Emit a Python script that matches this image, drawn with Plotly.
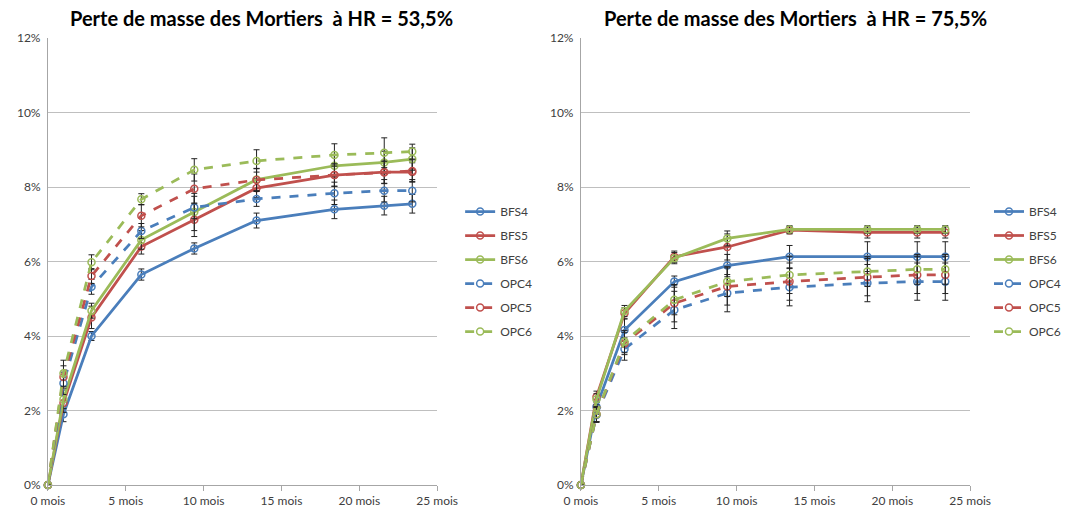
import plotly.graph_objects as go

# Time of measurement (months)
months = [0, 1, 2.8, 6, 9.4, 13.4, 18.4, 21.6, 23.4]

series_names = ["BFS4", "BFS5", "BFS6", "OPC4", "OPC5", "OPC6"]

# Mass loss (%) at HR = 53,5%
hr53_BFS4 = [0, 1.9, 4.0, 5.65, 6.35, 7.1, 7.4, 7.5, 7.55]
hr53_BFS5 = [0, 2.2, 4.5, 6.4, 7.12, 7.97, 8.32, 8.4, 8.4]
hr53_BFS6 = [0, 2.3, 4.68, 6.58, 7.33, 8.2, 8.57, 8.66, 8.75]
hr53_OPC4 = [0, 2.73, 5.32, 6.82, 7.45, 7.68, 7.83, 7.9, 7.9]
hr53_OPC5 = [0, 2.9, 5.61, 7.23, 7.95, 8.19, 8.32, 8.39, 8.43]
hr53_OPC6 = [0, 3.0, 5.98, 7.67, 8.46, 8.7, 8.86, 8.92, 8.95]

# Standard deviations (%) at HR = 53,5%
hr53_err_BFS4 = [0, 0.2, 0.12, 0.15, 0.15, 0.2, 0.25, 0.25, 0.25]
hr53_err_BFS5 = [0, 0.25, 0.3, 0.2, 0.45, 0.25, 0.3, 0.3, 0.25]
hr53_err_BFS6 = [0, 0.25, 0.2, 0.25, 0.5, 0.3, 0.3, 0.3, 0.3]
hr53_err_OPC4 = [0, 0.3, 0.2, 0.2, 0.3, 0.2, 0.3, 0.3, 0.3]
hr53_err_OPC5 = [0, 0.3, 0.2, 0.3, 0.4, 0.3, 0.3, 0.3, 0.3]
hr53_err_OPC6 = [0, 0.35, 0.2, 0.15, 0.3, 0.3, 0.3, 0.4, 0.2]

# Mass loss (%) at HR = 75,5%
hr75_BFS4 = [0, 2.1, 4.16, 5.46, 5.89, 6.13, 6.13, 6.13, 6.13]
hr75_BFS5 = [0, 2.37, 4.61, 6.13, 6.39, 6.84, 6.78, 6.78, 6.78]
hr75_BFS6 = [0, 2.3, 4.67, 6.09, 6.62, 6.86, 6.86, 6.86, 6.86]
hr75_OPC4 = [0, 1.88, 3.65, 4.7, 5.15, 5.31, 5.42, 5.46, 5.46]
hr75_OPC5 = [0, 1.9, 3.8, 4.88, 5.33, 5.46, 5.58, 5.64, 5.64]
hr75_OPC6 = [0, 1.9, 3.85, 4.97, 5.46, 5.64, 5.73, 5.79, 5.79]

# Standard deviations (%) at HR = 75,5%
hr75_err_BFS4 = [0, 0.2, 0.3, 0.15, 0.3, 0.3, 0.4, 0.4, 0.4]
hr75_err_BFS5 = [0, 0.15, 0.15, 0.15, 0.35, 0.1, 0.15, 0.15, 0.15]
hr75_err_BFS6 = [0, 0.15, 0.15, 0.15, 0.2, 0.1, 0.1, 0.1, 0.1]
hr75_err_OPC4 = [0, 0.2, 0.3, 0.5, 0.5, 0.5, 0.5, 0.5, 0.5]
hr75_err_OPC5 = [0, 0.2, 0.3, 0.5, 0.5, 0.5, 0.5, 0.5, 0.5]
hr75_err_OPC6 = [0, 0.2, 0.3, 0.4, 0.4, 0.5, 0.4, 0.4, 0.4]

x_tickvals = [0, 5, 10, 15, 20, 25]
x_ticktext = ["0 mois", "5 mois", "10 mois", "15 mois", "20 mois", "25 mois"]
y_tickvals = [0, 2, 4, 6, 8, 10, 12]
y_ticktext = ["0%", "2%", "4%", "6%", "8%", "10%", "12%"]

titles = ["Perte de masse des Mortiers  à HR = 53,5%",
          "Perte de masse des Mortiers  à HR = 75,5%"]

colors = {"BFS4": "#4A7EBB", "BFS5": "#C0504D", "BFS6": "#9BBB59",
          "OPC4": "#4A7EBB", "OPC5": "#C0504D", "OPC6": "#9BBB59"}
dashes = {"BFS4": "solid", "BFS5": "solid", "BFS6": "solid",
          "OPC4": "dash", "OPC5": "dash", "OPC6": "dash"}

panels = [
    ("x", "y", "legend",
     [hr53_BFS4, hr53_BFS5, hr53_BFS6, hr53_OPC4, hr53_OPC5, hr53_OPC6],
     [hr53_err_BFS4, hr53_err_BFS5, hr53_err_BFS6, hr53_err_OPC4, hr53_err_OPC5, hr53_err_OPC6]),
    ("x2", "y2", "legend2",
     [hr75_BFS4, hr75_BFS5, hr75_BFS6, hr75_OPC4, hr75_OPC5, hr75_OPC6],
     [hr75_err_BFS4, hr75_err_BFS5, hr75_err_BFS6, hr75_err_OPC4, hr75_err_OPC5, hr75_err_OPC6]),
]

FONT = "Lato, 'Open Sans', sans-serif"

fig = go.Figure()
for xa, ya, leg, values, errors in panels:
    for name, vals, errs in zip(series_names, values, errors):
        fig.add_trace(go.Scatter(
            x=months, y=vals, name=name, xaxis=xa, yaxis=ya, legend=leg,
            legendgroup=leg + name,
            mode="lines+markers",
            line=dict(color=colors[name], width=2.75, dash=dashes[name]),
            marker=dict(symbol="circle-open", size=7, color=colors[name],
                        line=dict(width=1.5, color=colors[name])),
            error_y=dict(type="data", array=errs, visible=True,
                         color="#222222", thickness=1, width=3),
            cliponaxis=False,
        ))

W, H = 1066, 508
def px_x(p):
    return p / W
def px_y(p):
    return 1 - p / H

axis_common = dict(
    range=[0, 25], tickvals=x_tickvals, ticktext=x_ticktext,
    showgrid=False, zeroline=False, showline=True, linecolor="#A6A6A6",
    linewidth=1, ticks="outside", ticklen=5, tickcolor="#A6A6A6",
    automargin=False,
    tickfont=dict(family=FONT, size=12, color="#404040"),
)
yaxis_common = dict(
    range=[0, 12], tickvals=y_tickvals, ticktext=y_ticktext,
    showgrid=True, gridcolor="#BFBFBF", gridwidth=1, zeroline=False,
    showline=True, linecolor="#A6A6A6", linewidth=1, ticks="",
    ticklabelstandoff=4, automargin=False,
    tickfont=dict(family=FONT, size=12, color="#404040"),
    domain=[px_y(485), px_y(38)],
)

legend_common = dict(
    font=dict(family=FONT, size=12, color="#404040"),
    bgcolor="rgba(0,0,0,0)", tracegroupgap=5, xanchor="left", yanchor="top",
    itemclick=False,
)

title_font = dict(family=FONT, size=20, color="#000000")

fig.update_layout(
    width=W, height=H, margin=dict(l=0, r=0, t=0, b=0),
    paper_bgcolor="white", plot_bgcolor="white",
    xaxis=dict(axis_common, domain=[px_x(48), px_x(438)], anchor="y"),
    yaxis=dict(yaxis_common, anchor="x"),
    xaxis2=dict(axis_common, domain=[px_x(582), px_x(972)], anchor="y2"),
    yaxis2=dict(yaxis_common, anchor="x2"),
    legend=dict(legend_common, x=px_x(461), y=px_y(197)),
    legend2=dict(legend_common, x=px_x(991), y=px_y(197)),
    annotations=[
        dict(text="<b>" + titles[0] + "</b>", x=px_x(262), y=px_y(18),
             xref="paper", yref="paper", xanchor="center", yanchor="middle",
             showarrow=False, font=title_font),
        dict(text="<b>" + titles[1] + "</b>", x=px_x(797), y=px_y(18),
             xref="paper", yref="paper", xanchor="center", yanchor="middle",
             showarrow=False, font=title_font),
    ],
)

fig.write_html("out.html")
